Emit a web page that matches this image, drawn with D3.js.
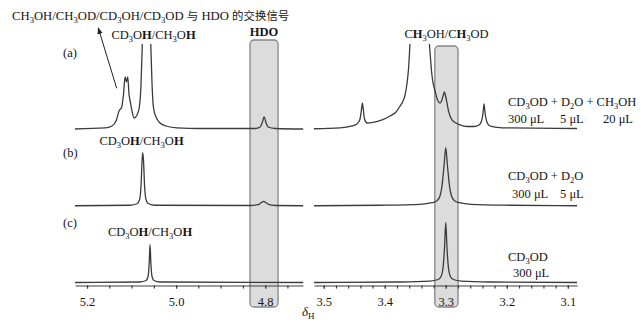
<!DOCTYPE html>
<html>
<head>
<meta charset="utf-8">
<script src="https://cdn.jsdelivr.net/npm/d3@7"></script>
<style>
  body { margin: 0; background: #fff; }
  svg text { font-family: "Liberation Serif", "Noto Sans CJK SC", serif; fill: #151515; }
</style>
</head>
<body>
<svg id="chart"></svg>
<script>
// spectra: [chemical shift (ppm), intensity], 100 = top of plot
const leftA = [
  [5.227, 0], [5.1596, 1.2], [5.1439, 3.5], [5.1349, 9.3], [5.1281, 20.9], [5.1221, 25.6],
  [5.118, 40.7], [5.1146, 60.5], [5.1115, 54.7], [5.1086, 60.5], [5.1057, 40.7], [5.1023, 30.2],
  [5.0989, 20.9], [5.0944, 12.8], [5.0877, 16.3], [5.0825, 25.6], [5.0787, 52.3], [5.0758, 100],
  [5.0663, 290], [5.0569, 100], [5.054, 52.3], [5.051, 25.6], [5.045, 14], [5.036, 7],
  [5.0225, 3.5], [4.9978, 1.2], [4.9461, 0.6], [4.8225, 0.6], [4.8113, 2.3], [4.8068, 7],
  [4.8023, 14], [4.7978, 7], [4.7933, 2.3], [4.7776, 0.6], [4.7146, 0]
];
const leftB = [
  [5.227, 0], [5.1034, 0.6], [5.0877, 2.3], [5.0821, 7], [5.0787, 23.3], [5.0764, 52.3],
  [5.0749, 61.6], [5.0731, 52.3], [5.0708, 23.3], [5.0674, 7], [5.0618, 2.3], [5.0472, 0.6],
  [4.8337, 0.3], [4.8158, 1.2], [4.809, 3.5], [4.8034, 5.2], [4.7978, 3.5], [4.791, 1.2],
  [4.7776, 0.3], [4.7146, 0]
];
const leftC = [
  [5.227, 0], [5.0809, 0.6], [5.0674, 2.3], [5.063, 7], [5.0603, 23.3], [5.0585, 44.2],
  [5.0567, 23.3], [5.054, 7], [5.0495, 2.3], [5.036, 0.6], [4.7146, 0]
];
const rightA = [
  [3.516, 0.3], [3.4734, 1.2], [3.4537, 3.5], [3.4455, 5.8], [3.4406, 11.6], [3.4381, 23.3],
  [3.4368, 30.2], [3.4353, 23.3], [3.4332, 11.6], [3.4291, 7], [3.4193, 7.6], [3.4045, 10.5],
  [3.3914, 15.1], [3.3816, 19.8], [3.375, 26.7], [3.3701, 32.6], [3.3668, 39.5], [3.3635, 53.5],
  [3.3611, 69.8], [3.3586, 100], [3.3431, 290], [3.327, 100], [3.325, 81.4], [3.3231, 65.1],
  [3.3209, 53.5], [3.3176, 44.2], [3.3135, 33.7], [3.3094, 30.2], [3.307, 32.6], [3.3045, 38.4],
  [3.3024, 43], [3.3004, 38.4], [3.298, 30.2], [3.2955, 20.9], [3.293, 15.1], [3.2898, 10.5],
  [3.2849, 7.6], [3.2767, 4.7], [3.2652, 2.9], [3.2537, 2.9], [3.2455, 4.7], [3.2414, 9.3],
  [3.239, 18.6], [3.2373, 29.1], [3.2357, 18.6], [3.2332, 9.3], [3.2291, 4.1], [3.2193, 2.3],
  [3.1947, 1.2], [3.0849, 0.6]
];
const rightB = [
  [3.516, 0], [3.4078, 0.6], [3.3422, 1.7], [3.3226, 3.5], [3.3144, 5.8], [3.3094, 11.6],
  [3.3062, 23.3], [3.3029, 46.5], [3.3001, 67.5], [3.2973, 46.5], [3.294, 23.3], [3.2908, 11.6],
  [3.2858, 5.8], [3.2776, 3.5], [3.2586, 1.7], [3.1947, 0.6], [3.0849, 0]
];
const rightC = [
  [3.516, 0], [3.375, 0.6], [3.3258, 1.7], [3.3127, 3.5], [3.3078, 7], [3.3045, 17.4],
  [3.3021, 40.7], [3.3001, 69.8], [3.2981, 40.7], [3.2957, 17.4], [3.2924, 7], [3.2875, 3.5],
  [3.275, 1.7], [3.2275, 0.6], [3.0849, 0]
];

const traceKeys = ["a", "b", "c"];
const leftDomain = [5.227, 4.715];
const rightDomain = [3.516, 3.085];
const leftTicks = [5.2, 5.0, 4.8];
const leftMinor = [5.2, 5.15, 5.1, 5.05, 5.0, 4.95, 4.9, 4.85, 4.8, 4.75];
const rightTicks = [3.5, 3.4, 3.3, 3.2, 3.1];
const rightMinor = [3.5, 3.48, 3.46, 3.44, 3.42, 3.4, 3.38, 3.36, 3.34, 3.32, 3.3,
  3.28, 3.26, 3.24, 3.22, 3.2, 3.18, 3.16, 3.14, 3.12, 3.1];
const shadeLeft = [4.834, 4.771];   // HDO exchange region
const shadeRight = [3.318, 3.28];   // CHD2OD residual region

const width = 641, height = 324;
const axisY = 285.5;
const clipTop = 44;
const lineColor = "#3b3b3b";

const svg = d3.select("#chart").attr("width", width).attr("height", height);

const xL = d3.scaleLinear().domain(leftDomain).range([75, 303]);
const xR = d3.scaleLinear().domain(rightDomain).range([314, 577]);
const yBase = d3.scalePoint().domain(traceKeys).range([129, 282.5]);
const yInt = d3.scaleLinear().domain([0, 100]).range([0, 86]);

const panels = [
  { x: xL, series: { a: leftA, b: leftB, c: leftC }, major: leftTicks, minor: leftMinor, shade: shadeLeft, shadeTop: 40 },
  { x: xR, series: { a: rightA, b: rightB, c: rightC }, major: rightTicks, minor: rightMinor, shade: shadeRight, shadeTop: 46 },
];

const defs = svg.append("defs");
defs.append("clipPath").attr("id", "clip-top")
  .append("rect").attr("x", 0).attr("y", clipTop).attr("width", width).attr("height", height - clipTop);
defs.append("marker")
  .attr("id", "arrow")
  .attr("viewBox", "0 -4 9 8")
  .attr("refX", 8).attr("refY", 0)
  .attr("markerWidth", 7).attr("markerHeight", 6)
  .attr("markerUnits", "userSpaceOnUse")
  .attr("orient", "auto")
  .append("path").attr("d", "M0,-3.5L9,0L0,3.5Z").attr("fill", "#222");

// shaded boxes behind the traces
svg.append("g").selectAll("rect")
  .data(panels)
  .join("rect")
  .attr("x", (p) => p.x(p.shade[0]))
  .attr("width", (p) => p.x(p.shade[1]) - p.x(p.shade[0]))
  .attr("y", (p) => p.shadeTop)
  .attr("height", (p) => 307 - p.shadeTop)
  .attr("rx", 4)
  .attr("fill", "#dcdcdc")
  .attr("stroke", "#858585")
  .attr("stroke-width", 1.3);

const gTraces = svg.append("g").attr("clip-path", "url(#clip-top)");
panels.forEach((p) => {
  const line = (key) => d3.line()
    .x((d) => p.x(d[0]))
    .y((d) => yBase(key) - yInt(d[1]))
    .curve(d3.curveMonotoneX);
  gTraces.append("g").selectAll("path")
    .data(traceKeys)
    .join("path")
    .attr("fill", "none")
    .attr("stroke", lineColor)
    .attr("stroke-width", 1.3)
    .attr("d", (k) => line(k)(p.series[k]));
});

// axes
panels.forEach((p) => {
  const g = svg.append("g").attr("transform", `translate(0,${axisY})`);
  g.call(d3.axisBottom(p.x).tickValues(p.minor).tickSize(3).tickSizeOuter(0).tickFormat(""));
  g.append("g")
    .call(d3.axisBottom(p.x).tickValues(p.major).tickSize(3).tickPadding(9).tickFormat(d3.format(".1f")))
    .call((a) => a.select(".domain").remove());
  g.selectAll("path, line").attr("stroke", "#3f3f3f").attr("stroke-width", 1.2);
  g.selectAll("text")
    .attr("fill", "#151515")
    .style("font-family", '"Liberation Serif", serif')
    .style("font-size", "12.5px");
});

// text with _x subscripts and *bold* runs; CJK characters a bit smaller
function rich(sel, str, x, y, anchor = "start", size = 12.5) {
  const t = sel.append("text")
    .attr("x", x).attr("y", y)
    .attr("text-anchor", anchor)
    .style("font-size", size + "px");
  const segs = [];
  let bold = false;
  for (let i = 0; i < str.length; i++) {
    const c = str[i];
    if (c === "*") { bold = !bold; continue; }
    if (c === "_") { segs.push({ t: str[i + 1], sub: true, bold }); i++; continue; }
    const cjk = c.charCodeAt(0) > 0x2e80;
    const last = segs[segs.length - 1];
    if (last && !last.sub && last.bold === bold && last.cjk === cjk) last.t += c;
    else segs.push({ t: c, sub: false, bold, cjk });
  }
  let shift = 0;
  segs.forEach((s) => {
    const off = s.sub ? 3 : 0;
    t.append("tspan")
      .attr("dy", off - shift)
      .style("font-size", s.sub ? "0.68em" : s.cjk ? "0.9em" : null)
      .style("font-weight", s.bold ? "bold" : null)
      .text(s.t);
    shift = off;
  });
  return t;
}

const gText = svg.append("g");
rich(gText, "CH_3OH/CH_3OD/CD_3OH/CD_3OD 与 HDO 的交换信号", 12, 20, "start", 12.7);
rich(gText, "CD_3O*H*/CH_3O*H*", 153.5, 38.5, "middle");
rich(gText, "*HDO*", 264, 36, "middle");
rich(gText, "C*H*_3OH/C*H*_3OD", 446.5, 38, "middle");
rich(gText, "CD_3O*H*/CH_3O*H*", 141.5, 145, "middle");
rich(gText, "CD_3O*H*/CH_3O*H*", 150, 236, "middle");
rich(gText, "(a)", 63, 57);
rich(gText, "(b)", 63, 157);
rich(gText, "(c)", 63, 227);

rich(gText, "CD_3OD + D_2O + CH_3OH", 508, 106);
rich(gText, "300 μL", 508, 123);
rich(gText, "5 μL", 560, 123);
rich(gText, "20 μL", 603, 123);
rich(gText, "CD_3OD + D_2O", 508, 180);
rich(gText, "300 μL", 512, 198);
rich(gText, "5 μL", 560, 198);
rich(gText, "CD_3OD", 508, 260.5);
rich(gText, "300 μL", 513, 276.5);

const dl = rich(gText, "", 302, 316);
dl.append("tspan").style("font-style", "italic").style("font-size", "13px").text("δ");
dl.append("tspan").attr("dy", 3).style("font-size", "9px").text("H");

svg.append("line")
  .attr("x1", 116.7).attr("y1", 88.3)
  .attr("x2", 98.3).attr("y2", 28)
  .attr("stroke", "#222")
  .attr("stroke-width", 1)
  .attr("marker-end", "url(#arrow)");
</script>
</body>
</html>
